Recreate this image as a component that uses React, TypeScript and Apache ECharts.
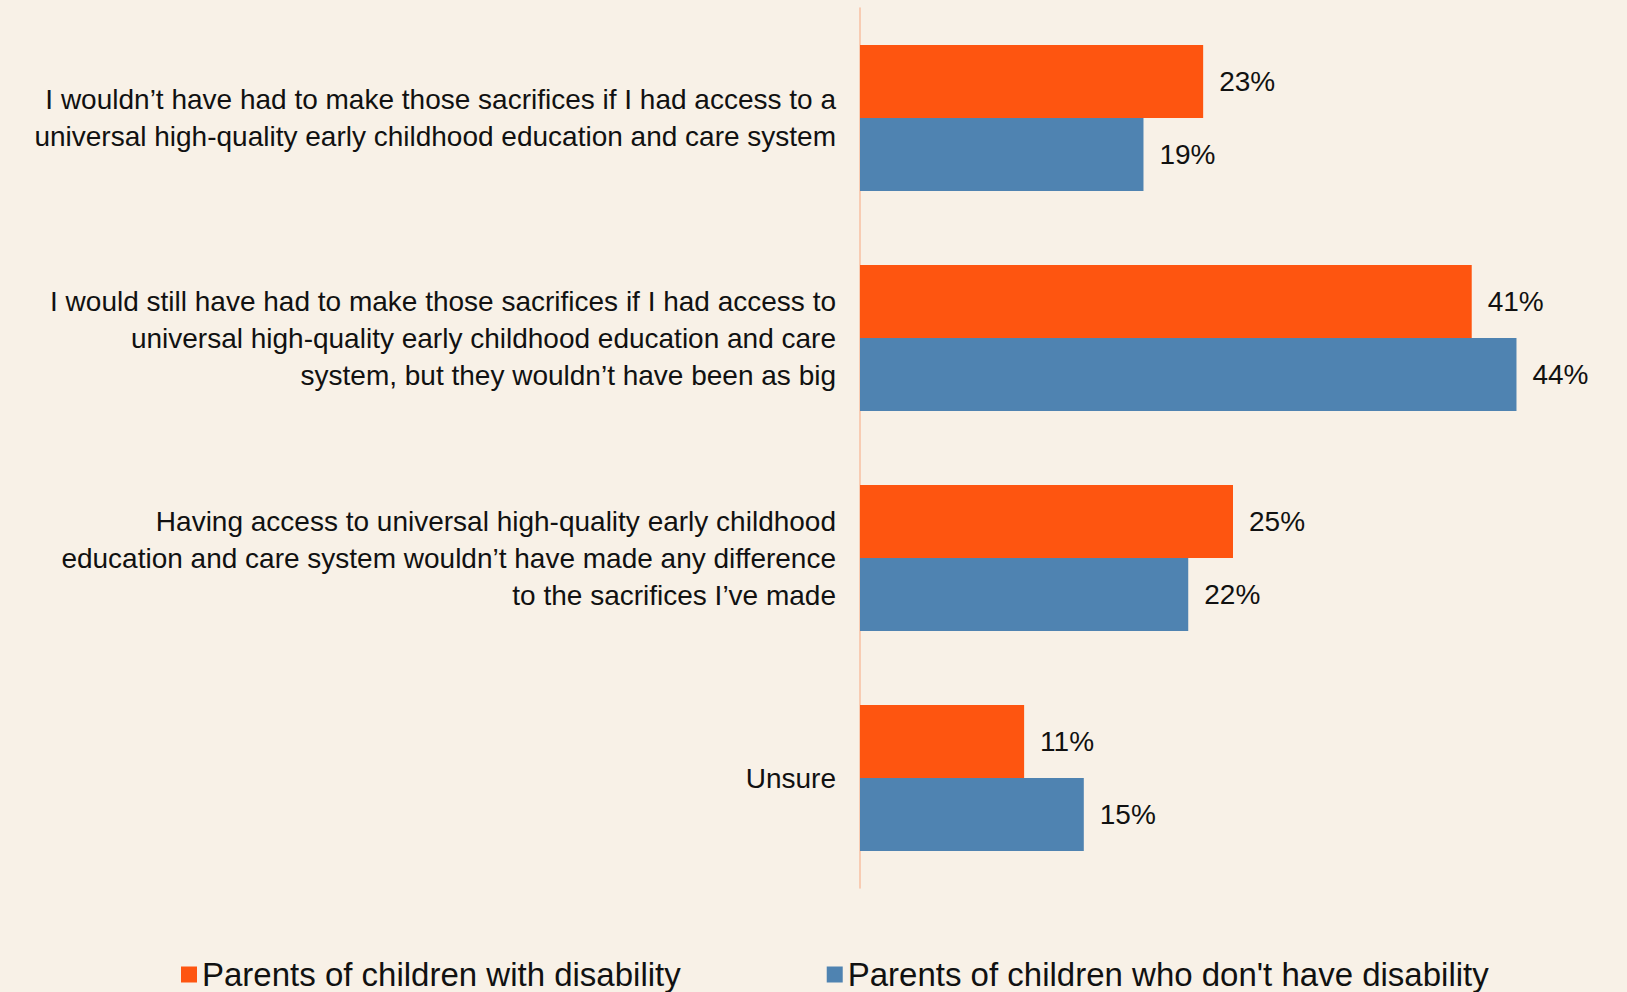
import { useEffect, useRef } from "react";
import * as echarts from "echarts";

// Survey responses, top to bottom
const categories = [
  "I wouldn’t have had to make those sacrifices if I had access to a\nuniversal high-quality early childhood education and care system",
  "I would still have had to make those sacrifices if I had access to\nuniversal high-quality early childhood education and care\nsystem, but they wouldn’t have been as big",
  "Having access to universal high-quality early childhood\neducation and care system wouldn’t have made any difference\nto the sacrifices I’ve made",
  "Unsure",
];

const seriesNames = [
  "Parents of children with disability",
  "Parents of children who don't have disability",
];

// Percent of respondents
const withDisability = [23, 41, 25, 11];
const withoutDisability = [19, 44, 22, 15];

const ORANGE = "#FE5510";
const BLUE = "#4F83B1";
const BG = "#F8F1E7";
const FONT = "'Liberation Sans', Arial, sans-serif";

export default function App() {
  const ref = useRef<HTMLDivElement>(null);

  useEffect(() => {
    document.body.style.margin = "0";
    document.body.style.background = BG;
    if (!ref.current) return;
    const chart = echarts.init(ref.current, null, { renderer: "svg" });

    const valueLabel = {
      show: true,
      position: "right" as const,
      distance: 16,
      formatter: "{c}%",
      color: "#111",
      fontFamily: FONT,
      fontSize: 28,
    };

    chart.setOption({
      animation: false,
      backgroundColor: BG,
      textStyle: { fontFamily: FONT },
      grid: { left: 860, right: 21, top: 8, height: 880, containLabel: false },
      xAxis: {
        type: "value",
        min: 0,
        max: 50,
        show: false,
      },
      yAxis: {
        type: "category",
        inverse: true,
        data: categories,
        axisLine: { show: true, lineStyle: { color: "#F8BFA2", width: 1.5 } },
        axisTick: { show: false },
        splitLine: { show: false },
        axisLabel: {
          margin: 24,
          color: "#111",
          fontFamily: FONT,
          fontSize: 28,
          lineHeight: 37,
          align: "right",
          verticalAlign: "middle",
          padding: [0, 0, 12, 0],
        },
      },
      legend: {
        left: 181,
        top: 958,
        padding: 0,
        icon: "rect",
        itemWidth: 16,
        itemHeight: 16,
        itemGap: 146,
        textStyle: { color: "#111", fontFamily: FONT, fontSize: 33, lineHeight: 33 },
        data: seriesNames,
      },
      series: [
        {
          name: seriesNames[0],
          type: "bar",
          data: withDisability,
          barWidth: 73,
          barGap: "0%",
          itemStyle: { color: ORANGE },
          label: valueLabel,
        },
        {
          name: seriesNames[1],
          type: "bar",
          data: withoutDisability,
          barWidth: 73,
          barGap: "0%",
          itemStyle: { color: BLUE },
          label: valueLabel,
        },
      ],
    });

    return () => chart.dispose();
  }, []);

  return <div ref={ref} style={{ width: 1627, height: 992 }} />;
}
